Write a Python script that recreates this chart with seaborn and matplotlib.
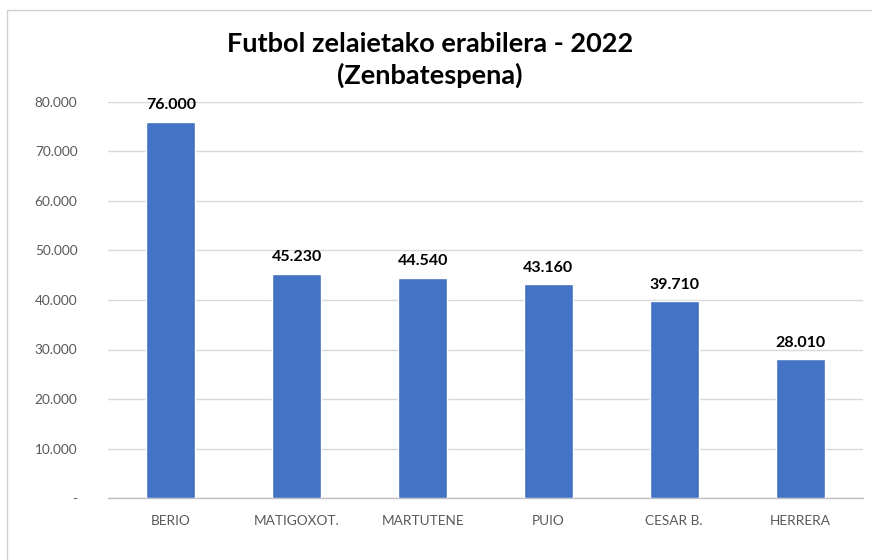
import numpy as np
import matplotlib
matplotlib.use("Agg")
import matplotlib.pyplot as plt
import seaborn as sns
from matplotlib.patches import Rectangle
from matplotlib.ticker import FuncFormatter

# Data
fields = ["BERIO", "MATIGOXOT.", "MARTUTENE", "PUIO", "CESAR B.", "HERRERA"]
usage = [76000, 45230, 44540, 43160, 39710, 28010]

title = "Futbol zelaietako erabilera - 2022\n(Zenbatespena)"


def dotted(v, pos=None):
    # Basque style: dot as thousands separator, dash for zero
    if v == 0:
        return "-"
    return f"{int(round(v)):,}".replace(",", ".")


sns.set_theme(style="white")
plt.rcParams["font.family"] = ["Lato", "DejaVu Sans"]

fig = plt.figure(figsize=(8.72, 5.6), dpi=100)
ax = fig.add_axes([108 / 872, 1 - 498 / 560, 755 / 872, 396 / 560])

sns.barplot(x=fields, y=usage, color="#4472C4", width=0.39, saturation=1,
            ax=ax, zorder=3)

ax.set_ylim(0, 80000)
ax.set_yticks(np.arange(0, 80001, 10000))
ax.yaxis.set_major_formatter(FuncFormatter(dotted))
ax.yaxis.grid(True, color="#d9d9d9", linewidth=1, zorder=0)
ax.set_xlim(-0.5, len(fields) - 0.5)

for s in ["left", "right", "top"]:
    ax.spines[s].set_visible(False)
ax.spines["bottom"].set_color("#bfbfbf")
ax.spines["bottom"].set_linewidth(1)

ax.tick_params(axis="y", length=0, pad=22, labelsize=9.8, labelcolor="#595959")
ax.tick_params(axis="x", which="major", length=0, pad=12, labelsize=9.8,
               labelcolor="#595959")
ax.set_xticks(np.arange(-0.5, len(fields), 1), minor=True)
ax.tick_params(axis="x", which="minor", length=5, color="#bfbfbf", width=1)

for i, v in enumerate(usage):
    ax.annotate(dotted(v), (i, v), xytext=(0, 7), textcoords="offset points",
                ha="center", va="bottom", fontsize=11.5, fontweight="bold",
                color="black")

fig.text(430 / 872, 1 - 60 / 560, title, ha="center", va="center",
         fontsize=19.5, fontweight="bold", color="black", linespacing=1.3)

# chart area border (only top and left visible in the crop)
fig.patches.append(Rectangle((7 / 872, -0.1), 1.2, 1 - 10 / 560 + 0.1,
                             transform=fig.transFigure, fill=False,
                             edgecolor="#d0d0d0", linewidth=1))

fig.savefig("out.png", dpi=100)
